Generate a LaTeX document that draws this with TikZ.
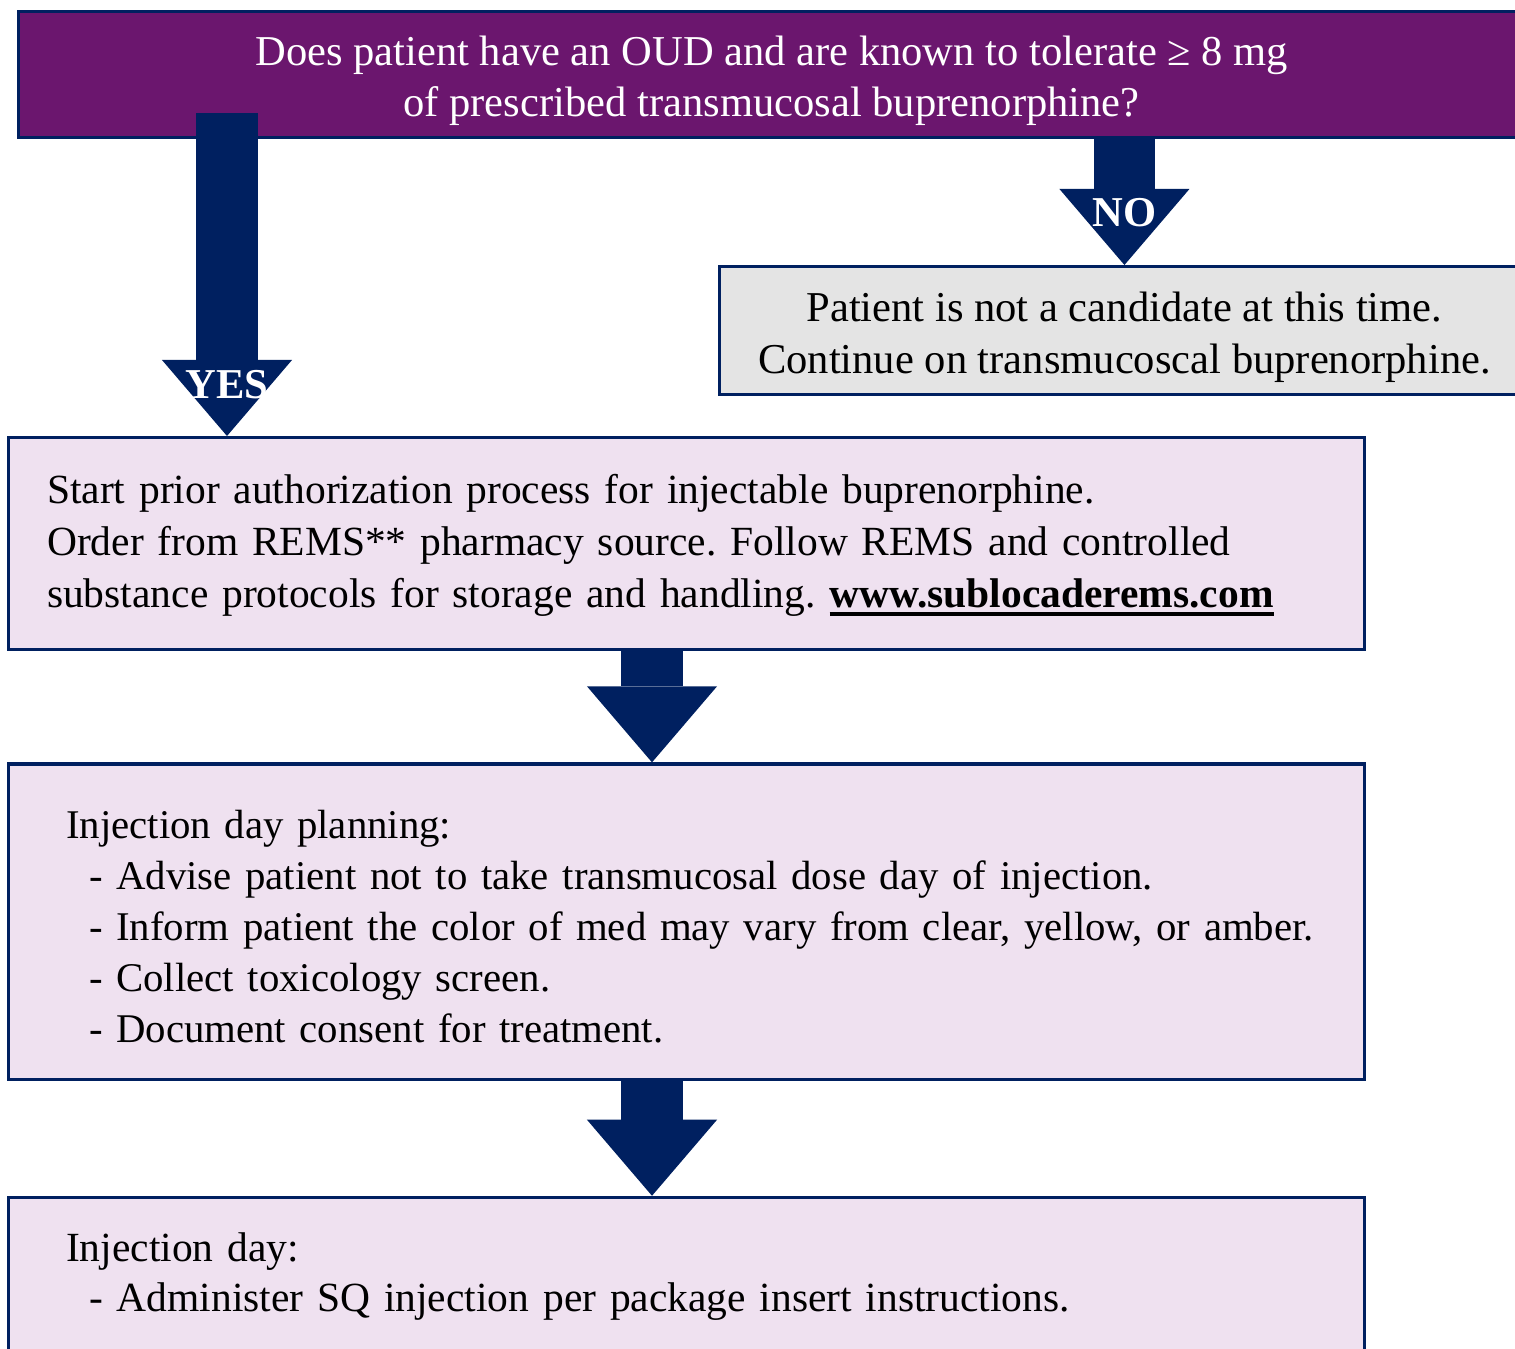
\documentclass[tikz,border=0pt]{standalone}
\usepackage{fontspec}
\setmainfont{Liberation Serif}
\usetikzlibrary{arrows.meta, positioning}
\frenchspacing

\definecolor{qpurple}{RGB}{107,22,110}
\definecolor{navy}{RGB}{0,32,96}
\definecolor{lavender}{RGB}{239,225,240}
\definecolor{greybox}{RGB}{228,228,228}

% thick underline for the web address
\newcommand{\thickul}[1]{\leavevmode\vtop{\hbox{#1}\kern1.1pt\hrule height 1.1pt}}
% indents inside the planning boxes
\newcommand{\headind}{\hspace*{0.19cm}}
\newcommand{\itemind}{\hspace*{0.42cm}}

\begin{document}
\begin{tikzpicture}[
            x = 0.01cm, y = -0.01cm, % pixel grid, y pointing down
            node distance = 1.11cm, % gap between the stacked boxes
            font = \fontsize{12.1pt}{14.8pt}\selectfont,
        ]
 \tikzstyle{boxstyle}=[
             shape = rectangle,
            draw = navy,
            line width = 0.9pt,
            fill = lavender,
            minimum width = 13.55cm,
            text width = 12.78cm,
            inner xsep = 0.385cm,
            align = left,
            font = \fontsize{11.8pt}{14.8pt}\selectfont
        ]
 \tikzstyle{fatarrow}=[
            draw = navy,
            line width = 0.61cm,
            -{Triangle[width=1.3cm, length=0.76cm, line width=0pt]}
        ]
 \tikzstyle{armlabel}=[
            text = white,
            font = \fontsize{12.1pt}{14.8pt}\selectfont\bfseries
        ]
\useasboundingbox (0,0) rectangle (1515,1348);

\node[boxstyle, fill=qpurple, text=white, align=center, anchor=north west,
      text width=, minimum width=15.05cm, minimum height=1.26cm,
      font=\fontsize{12.1pt}{14.6pt}\selectfont] (question) at (17,10)
  {\rule{0pt}{12pt}Does patient have an OUD and are known to tolerate ≥ 8 mg\\
   of prescribed transmucosal buprenorphine?};
\node[boxstyle, fill=greybox, align=center, anchor=north west,
      text width=, minimum width=8.05cm, minimum height=1.28cm,
      font=\fontsize{12.1pt}{14.8pt}\selectfont] (notnow) at (718,265)
  {\rule{0pt}{12.3pt}Patient is not a candidate at this time.\\
   Continue on transmucoscal buprenorphine.};
\node[boxstyle, anchor=north west, minimum height=2.12cm] (priorauth) at (7,436)
  {\rule{0pt}{9.5pt}Start prior authorization process for injectable buprenorphine.\\
   Order from REMS** pharmacy source. Follow REMS and controlled\\
   substance protocols for storage and handling. \thickul{\textbf{www.sublocaderems.com}}};
\node[boxstyle, below=of priorauth, minimum height=3.15cm,
      font=\fontsize{11.6pt}{14.5pt}\selectfont] (planning)
  {\headind\rule{0pt}{10.8pt}Injection day planning:\\
   \itemind- Advise patient not to take transmucosal dose day of injection.\\
   \itemind- Inform patient the color of med may vary from clear, yellow, or amber.\\
   \itemind- Collect toxicology screen.\\
   \itemind- Document consent for treatment.};
\node[boxstyle, below=1.15cm of planning, inner ysep=0.35cm,
      font=\fontsize{11.8pt}{14.3pt}\selectfont] (injday)
  {\headind Injection day:\\
   \itemind- Administer SQ injection per package insert instructions.\rule[-1.3cm]{0pt}{0pt}};

\coordinate (yestop) at (227,113);
\coordinate (midline) at (652,0);
\draw[fatarrow] (yestop) -- (yestop |- priorauth.north) node[armlabel, pos=0.84] {YES};
\draw[fatarrow] (question.south -| notnow.north) -- (notnow.north) node[armlabel, pos=0.58] {NO};
\draw[fatarrow] (priorauth.south -| midline) -- (planning.north -| midline);
\draw[fatarrow] (planning.south -| midline) -- (injday.north -| midline);
\end{tikzpicture}
\end{document}
